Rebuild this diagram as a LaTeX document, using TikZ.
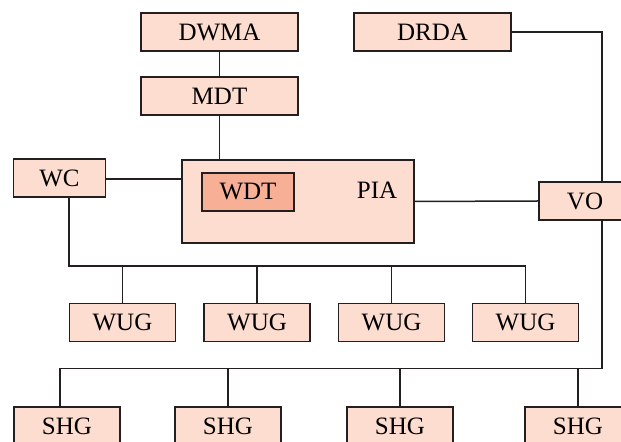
\documentclass[tikz,border=0pt]{standalone}
\usepackage{fontspec}
\setmainfont{Liberation Serif}

\definecolor{boxfill}{RGB}{253,221,207}
\definecolor{wdtfill}{RGB}{247,176,150}
\definecolor{linegray}{RGB}{35,31,32}

\tikzset{
    unit/.style={draw=linegray, fill=boxfill, line width=0.75pt, inner sep=0pt,
        minimum height=19pt},
    wide/.style={unit, minimum width=78.5pt},
    small/.style={unit, minimum width=46pt},
    group/.style={unit, minimum width=53pt},
    link/.style={draw=linegray, line width=0.75pt}
}

\begin{document}
\begin{tikzpicture}[x=0.5pt, y=-0.5pt, font=\fontsize{12.5}{14}\selectfont]
    \useasboundingbox (0,0) rectangle (621,442);

    % top row
    \node [wide] (dwma) at (219.5,32) {DWMA};
    \node [wide] (mdt) at (219.5,96) {MDT};
    \node [wide] (drda) at (432.5,32) {DRDA};

    % middle
    \node [small] (wc) at (59.5,178) {WC};
    \node [unit, minimum width=116pt, minimum height=41.5pt,
        label={[xshift=39.5pt, yshift=5.5pt]center:PIA}] (pia) at (298,201.5) {};
    \node [small, fill=wdtfill] (wdt) at (248,192) {WDT};
    \node [small] (vo) at (585,201) {VO};

    % user groups
    \foreach \x [count=\i] in {122.5,257,391.5,525.5}
        \node [group] (wug\i) at (\x,322.5) {WUG};

    % self help groups
    \foreach \x [count=\i] in {67,228,400,578}
        \node [group] (shg\i) at (\x,426) {SHG};

    \coordinate (wline) at (0,179);
    \coordinate (wbus) at (0,266);
    \coordinate (wdrop) at (69,0);
    \coordinate (sbus) at (0,368.5);
    \coordinate (vline) at (602,0);
    \coordinate (sdrop) at (60,0);

    \path [link] (dwma) -- (mdt);
    \path [link] (mdt.south) -- (mdt.south |- pia.north);
    \path [link] (wc.east |- wline) -- (pia.west |- wline);
    \path [link] (pia.east) -- (vo.west);
    \path [link] (drda.east) -| (vline |- vo.north);

    \path [link] (wdrop |- wc.south) |- (wug4.north |- wbus) -- (wug4.north);
    \foreach \i in {1,2,3}
        \path [link] (wug\i.north) -- (wug\i.north |- wbus);

    \path [link] (vline |- vo.south) |- (sdrop |- sbus) -- (sdrop |- shg1.north);
    \foreach \i in {2,3,4}
        \path [link] (shg\i.north) -- (shg\i.north |- sbus);
\end{tikzpicture}
\end{document}
